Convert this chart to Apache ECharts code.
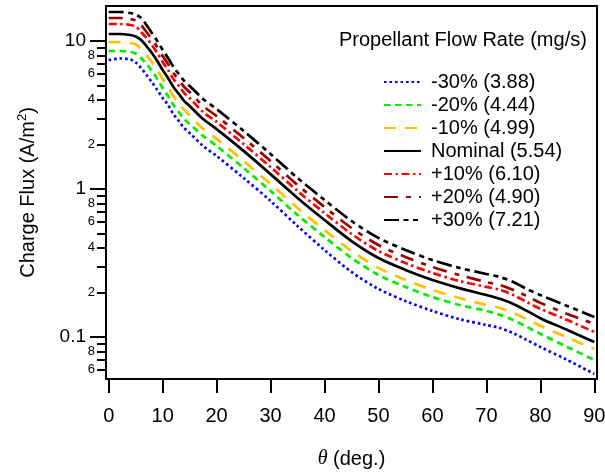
<!DOCTYPE html>
<html><head><meta charset="utf-8">
<script src="https://cdn.jsdelivr.net/npm/echarts@6/dist/echarts.min.js"></script>
<style>html,body{margin:0;padding:0;background:#fff}#c{width:605px;height:472px}</style>
</head><body><div id="c"></div>
<script>
const theta = [0,2,4,5,6,7,8,9,10,11,12,13,14,15,17.5,20,25,30,35,40,45,50,55,60,65,70,72.5,75,77.5,80,85,90];
const m30 = [7.44,7.62,7.50,7.16,6.57,5.89,5.28,4.67,4.12,3.69,3.21,2.88,2.58,2.39,1.952,1.671,1.187,0.830,0.562,0.387,0.275,0.211,0.175,0.150,0.132,0.1205,0.115,0.106,0.0954,0.0856,0.0699,0.0562];
const m20 = [8.56,8.56,8.43,8.23,7.68,6.99,6.27,5.54,4.81,4.25,3.69,3.31,2.97,2.75,2.28,1.952,1.386,0.969,0.667,0.474,0.342,0.262,0.218,0.186,0.1645,0.150,0.141,0.130,0.117,0.105,0.0856,0.0699];
const m10 = [9.84,9.84,9.69,9.47,8.83,8.04,7.21,6.37,5.54,4.89,4.25,3.81,3.42,3.16,2.54,2.18,1.546,1.081,0.744,0.528,0.381,0.293,0.243,0.208,0.183,0.1645,0.157,0.145,0.132,0.119,0.0992,0.083];
const nominal = [11.15,11.15,10.98,10.72,10.16,9.25,8.30,7.33,6.37,5.62,4.89,4.39,3.93,3.64,2.97,2.54,1.81,1.26,0.87,0.617,0.445,0.342,0.284,0.243,0.214,0.192,0.181,0.167,0.150,0.134,0.1115,0.0925];
const p10 = [13.03,13.03,12.83,12.53,11.50,10.48,9.40,8.30,7.22,6.37,5.54,4.97,4.45,4.12,3.31,2.84,2.01,1.408,0.969,0.688,0.497,0.381,0.316,0.271,0.239,0.218,0.208,0.192,0.172,0.155,0.130,0.108];
const p20 = [14.30,14.30,14.08,13.76,12.83,11.50,10.31,9.11,7.92,6.99,6.08,5.45,4.89,4.52,3.64,3.11,2.21,1.546,1.064,0.756,0.545,0.418,0.347,0.297,0.262,0.235,0.2245,0.208,0.189,0.170,0.143,0.1224];
const p30 = [15.70,15.70,15.46,15.10,14.30,12.83,11.32,10.0,8.70,7.68,6.67,5.98,5.37,4.97,4.06,3.47,2.47,1.724,1.187,0.843,0.608,0.467,0.387,0.331,0.293,0.2665,0.254,0.235,0.211,0.192,0.162,0.1365];
const seriesNames = ['-30% (3.88)','-20% (4.44)','-10% (4.99)','Nominal (5.54)','+10% (6.10)','+20% (4.90)','+30% (7.21)'];
const xTicks = [0,10,20,30,40,50,60,70,80,90];
const yMajor = [0.1, 1, 10];
const yMinorLabelDigits = [2,4,6,8];
const Y_MIN = 0.052, Y_MAX = 17.24;

const FONT = 'Liberation Sans, Arial, sans-serif';
const styles = [
  {color:'#0000ff', type:[2.6,2.9]},
  {color:'#00ee00', type:[6.5,4.5]},
  {color:'#ffc000', type:[12,9]},
  {color:'#000000', type:'solid'},
  {color:'#ff0000', type:[8,3.5,2.5,3.5]},
  {color:'#9b0000', type:[14,8,5,8]},
  {color:'#000000', type:[15,4.5,5,4.5,5,4.5]}
];
const datas = [m30,m20,m10,nominal,p10,p20,p30];

const lmin = Math.log10(Y_MIN), lmax = Math.log10(Y_MAX);
const majorLog = yMajor.map(v => Math.log10(v));
const minorTickLog = [], minorLabelLog = [];
for (let d = -2; d <= 1; d++) {
  for (let k = 2; k <= 9; k++) {
    const l = Math.log10(k) + d;
    if (l > lmin && l < lmax) {
      minorTickLog.push(l);
      if (yMinorLabelDigits.indexOf(k) >= 0) minorLabelLog.push(l);
    }
  }
}

const chart = echarts.init(document.getElementById('c'), null, {renderer:'canvas'});
chart.setOption({
  animation: false,
  backgroundColor: '#fff',
  title: {
    text: 'Propellant Flow Rate (mg/s)', left: 339, top: 30, padding: 0,
    textStyle: {fontSize: 20, fontWeight: 'normal', fontFamily: FONT, color: '#000'}
  },
  legend: {
    orient: 'vertical', left: 383, top: 72, padding: 0,
    itemWidth: 37, itemHeight: 12, itemGap: 3,
    data: seriesNames,
    itemStyle: {opacity: 0, borderWidth: 0},
    textStyle: {fontSize: 20, lineHeight: 20, fontFamily: FONT, color: '#000', padding: [0,0,0,5]}
  },
  grid: {left: 106, right: 8, top: 6, bottom: 93, show: true, borderColor: '#000', borderWidth: 2, outerBoundsMode: 'none', containLabel: false},
  xAxis: {
    type: 'value', min: -0.5, max: 90.5,
    name: '{t|θ}{a| (deg.)}', nameLocation: 'middle', nameGap: 70,
    nameTextStyle: {rich: {
      t: {fontFamily: 'Liberation Serif, serif', fontStyle: 'italic', fontSize: 20, color: '#000'},
      a: {fontFamily: FONT, fontSize: 20, color: '#000'}
    }},
    axisLine: {onZero: false, lineStyle: {color: '#000', width: 2}},
    axisTick: {customValues: xTicks, length: 14, lineStyle: {color: '#000', width: 2}},
    axisLabel: {customValues: xTicks, margin: 27, fontSize: 20, fontFamily: FONT, color: '#000'},
    splitLine: {show: false}
  },
  yAxis: [
    {type: 'log', min: Y_MIN, max: Y_MAX, show: false, splitLine: {show: false}},
    {
      type: 'value', min: lmin, max: lmax, position: 'left',
      name: '{a|Charge Flux (A/m}{s|2}{a|)}', nameLocation: 'middle', nameRotate: 90, nameGap: 66,
      nameTextStyle: {rich: {
        a: {fontFamily: FONT, fontSize: 20, lineHeight: 24, color: '#000'},
        s: {fontFamily: FONT, fontSize: 13, lineHeight: 24, verticalAlign: 'top', color: '#000'}
      }},
      axisLine: {onZero: false, lineStyle: {color: '#000', width: 2}},
      axisTick: {customValues: majorLog, length: 16, lineStyle: {color: '#000', width: 2}},
      axisLabel: {customValues: majorLog, margin: 20, fontSize: 19, fontFamily: FONT, color: '#000',
        formatter: v => { const r = Math.round(v); return r === 1 ? '10' : (r === 0 ? '1' : '0.1'); }},
      splitLine: {show: false}
    },
    {
      type: 'value', min: lmin, max: lmax, position: 'left',
      axisLine: {show: false, onZero: false},
      axisTick: {customValues: minorTickLog, length: 9, lineStyle: {color: '#000', width: 2}},
      axisLabel: {customValues: minorLabelLog, margin: 11, fontSize: 13, fontFamily: FONT, color: '#000',
        formatter: v => String(Math.round(Math.pow(10, v - Math.floor(v + 1e-9))))},
      splitLine: {show: false}
    }
  ],
  series: datas.map((arr, i) => ({
    name: seriesNames[i], type: 'line', yAxisIndex: 0,
    data: theta.map((t, j) => [t, arr[j]]),
    showSymbol: false, symbol: 'none', smooth: 0.3,
    lineStyle: {color: styles[i].color, width: 2.7, type: styles[i].type, cap: 'butt'},
    itemStyle: {color: styles[i].color}
  }))
});
</script></body></html>
